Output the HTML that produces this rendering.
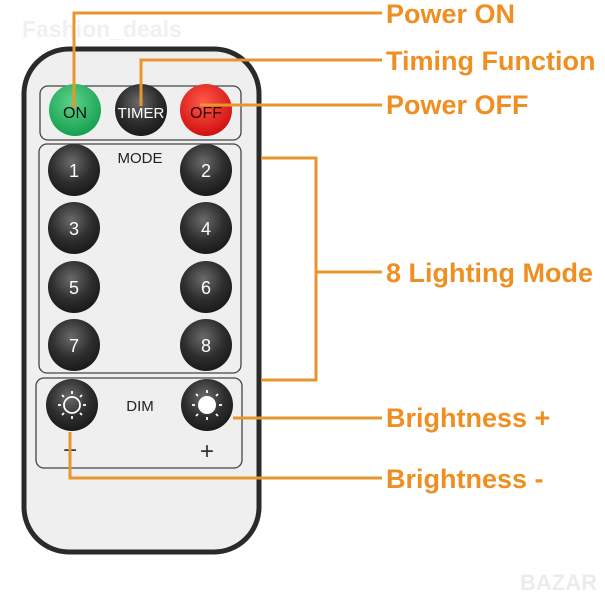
<!DOCTYPE html>
<html><head><style>
body{margin:0;background:#fff;}
svg text{font-family:"Liberation Sans",sans-serif;}
</style></head><body>
<svg width="605" height="600" viewBox="0 0 605 600" xmlns="http://www.w3.org/2000/svg">
<defs>
<radialGradient id="bk" cx="45%" cy="35%" r="65%"><stop offset="0" stop-color="#6a6a6a"/><stop offset="0.6" stop-color="#2e2e2e"/><stop offset="1" stop-color="#1a1a1a"/></radialGradient>
<radialGradient id="gr" cx="45%" cy="35%" r="65%"><stop offset="0" stop-color="#5fd28a"/><stop offset="1" stop-color="#14a050"/></radialGradient>
<radialGradient id="rd" cx="45%" cy="35%" r="65%"><stop offset="0" stop-color="#ff5a4a"/><stop offset="1" stop-color="#d01010"/></radialGradient>
</defs>
<text x="22" y="37" font-size="23" font-weight="bold" fill="#eef0f4">Fashion_deals</text>
<text x="520" y="590" font-size="22" font-weight="bold" fill="#ececec">BAZAR</text>
<rect x="24" y="49" width="235" height="503" rx="45" fill="#efefef" stroke="#2a2a2a" stroke-width="5"/>
<rect x="40" y="86" width="201" height="54" rx="8" fill="none" stroke="#444" stroke-width="1.3"/>
<rect x="39" y="144" width="202" height="229" rx="8" fill="none" stroke="#444" stroke-width="1.3"/>
<rect x="36" y="378" width="206" height="90" rx="8" fill="none" stroke="#444" stroke-width="1.3"/>
<circle cx="75" cy="110" r="26" fill="url(#gr)"/>
<text x="75" y="118" font-size="16" text-anchor="middle" fill="#111">ON</text>
<circle cx="141" cy="110" r="26" fill="url(#bk)"/>
<text x="141" y="118" font-size="15" text-anchor="middle" fill="#fff">TIMER</text>
<circle cx="206" cy="110" r="26" fill="url(#rd)"/>
<text x="206" y="118" font-size="16" text-anchor="middle" fill="#300">OFF</text>
<text x="140" y="163" font-size="15" text-anchor="middle" fill="#222">MODE</text>
<g font-size="18" text-anchor="middle" fill="#fff">
<circle cx="74" cy="170" r="26" fill="url(#bk)"/><text x="74" y="177">1</text>
<circle cx="206" cy="170" r="26" fill="url(#bk)"/><text x="206" y="177">2</text>
<circle cx="74" cy="228" r="26" fill="url(#bk)"/><text x="74" y="235">3</text>
<circle cx="206" cy="228" r="26" fill="url(#bk)"/><text x="206" y="235">4</text>
<circle cx="74" cy="287" r="26" fill="url(#bk)"/><text x="74" y="294">5</text>
<circle cx="206" cy="287" r="26" fill="url(#bk)"/><text x="206" y="294">6</text>
<circle cx="74" cy="345" r="26" fill="url(#bk)"/><text x="74" y="352">7</text>
<circle cx="206" cy="345" r="26" fill="url(#bk)"/><text x="206" y="352">8</text>
</g>
<text x="140" y="411" font-size="15" text-anchor="middle" fill="#222">DIM</text>
<circle cx="72" cy="405" r="26" fill="url(#bk)"/>
<circle cx="72" cy="405" r="8" fill="none" stroke="#fff" stroke-width="1.8"/>
<g stroke="#fff" stroke-width="1.8">
<line x1="72" y1="391" x2="72" y2="394"/><line x1="72" y1="416" x2="72" y2="419"/><line x1="58" y1="405" x2="61" y2="405"/><line x1="83" y1="405" x2="86" y2="405"/>
<line x1="62" y1="395" x2="64" y2="397"/><line x1="80" y1="413" x2="82" y2="415"/><line x1="82" y1="395" x2="80" y2="397"/><line x1="64" y1="413" x2="62" y2="415"/>
</g>
<circle cx="207" cy="405" r="26" fill="url(#bk)"/>
<circle cx="207" cy="405" r="9" fill="#fff"/>
<g stroke="#fff" stroke-width="1.8">
<line x1="207" y1="390" x2="207" y2="393"/><line x1="207" y1="417" x2="207" y2="420"/><line x1="192" y1="405" x2="195" y2="405"/><line x1="219" y1="405" x2="222" y2="405"/>
<line x1="196" y1="394" x2="198" y2="396"/><line x1="216" y1="414" x2="218" y2="416"/><line x1="218" y1="394" x2="216" y2="396"/><line x1="198" y1="414" x2="196" y2="416"/>
</g>
<text x="70" y="458" font-size="24" text-anchor="middle" fill="#333">−</text>
<text x="207" y="459" font-size="24" text-anchor="middle" fill="#333">+</text>
<g stroke="#e8952e" stroke-width="3" fill="none">
<polyline points="74,108 74,13 382,13"/>
<polyline points="141,106 141,60 382,60"/>
<line x1="200" y1="105" x2="382" y2="105"/>
<polyline points="261,158 316,158 316,380 261,380"/>
<line x1="316" y1="272" x2="382" y2="272"/>
<line x1="233" y1="418" x2="382" y2="418"/>
<polyline points="70,432 70,478 382,478"/>
</g>
<g font-size="27" font-weight="bold" fill="#ef8f22">
<text x="386" y="23">Power ON</text>
<text x="386" y="70">Timing Function</text>
<text x="386" y="114">Power OFF</text>
<text x="386" y="282">8 Lighting Mode</text>
<text x="386" y="427">Brightness +</text>
<text x="386" y="488">Brightness -</text>
</g>
</svg>
</body></html>
